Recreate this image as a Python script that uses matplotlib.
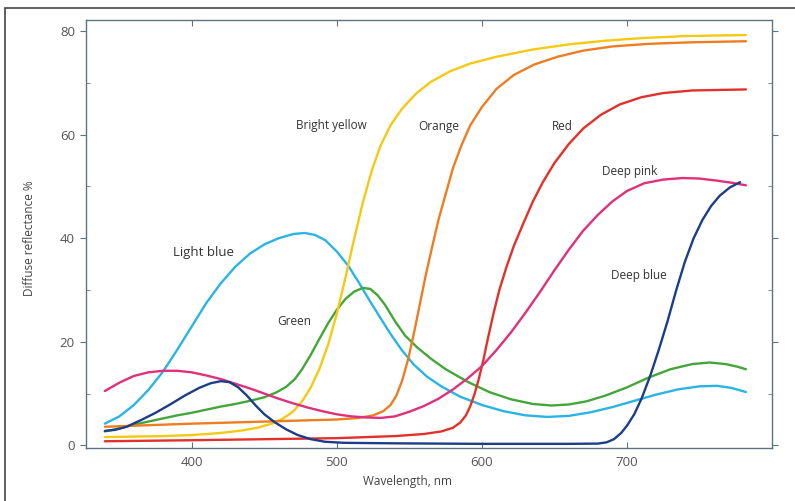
import matplotlib
matplotlib.use("Agg")
import matplotlib.pyplot as plt
from matplotlib.patches import Rectangle
from matplotlib.ticker import MultipleLocator

plt.rcParams['font.family'] = ['Open Sans', 'DejaVu Sans']

# ---- data ----
light_blue_x = [340, 350, 360, 370, 380, 390, 400, 410, 420, 430, 440, 450, 460, 470, 478, 485, 492, 500, 508, 515, 522, 530, 537, 545, 553, 562, 572, 585, 600, 615, 630, 645, 660, 675, 690, 705, 720, 735, 750, 762, 772, 782]
light_blue_y = [4.2, 5.6, 7.8, 10.7, 14.2, 18.5, 23, 27.5, 31.3, 34.5, 37, 38.8, 40, 40.8, 41, 40.6, 39.6, 37.4, 34.6, 31.5, 28.2, 24.6, 21.5, 18.3, 15.6, 13.3, 11.4, 9.4, 7.8, 6.6, 5.8, 5.5, 5.7, 6.4, 7.4, 8.6, 9.8, 10.8, 11.4, 11.5, 11.1, 10.3]

green_x = [340, 350, 360, 370, 380, 390, 400, 410, 420, 430, 440, 450, 458, 465, 471, 476, 482, 488, 494, 500, 506, 512, 518, 523, 528, 533, 540, 547, 555, 565, 575, 590, 605, 620, 635, 648, 660, 672, 685, 700, 715, 730, 745, 757, 768, 776, 782]
green_y = [2.7, 3.3, 4.0, 4.6, 5.2, 5.8, 6.3, 6.9, 7.5, 8.0, 8.6, 9.3, 10.2, 11.3, 12.8, 14.7, 17.5, 20.6, 23.6, 26.2, 28.3, 29.7, 30.4, 30.2, 29, 27.2, 24, 21.2, 19, 16.7, 14.7, 12.3, 10.3, 8.9, 8.0, 7.7, 7.9, 8.5, 9.6, 11.2, 13.1, 14.7, 15.7, 16, 15.7, 15.2, 14.7]

yellow_x = [340, 380, 400, 420, 435, 445, 455, 463, 470, 476, 482, 488, 494, 500, 506, 512, 518, 524, 530, 537, 545, 555, 565, 578, 592, 610, 635, 660, 685, 710, 740, 782]
yellow_y = [1.6, 1.8, 2.0, 2.4, 2.9, 3.4, 4.2, 5.2, 6.6, 8.5, 11.2, 14.8, 19.5, 25.5, 32.5, 40, 47, 53, 57.8, 61.8, 65, 68, 70.2, 72.2, 73.7, 75, 76.4, 77.4, 78.1, 78.6, 79, 79.2]

orange_x = [340, 400, 450, 500, 515, 525, 532, 537, 541, 545, 549, 553, 557, 561, 565, 570, 575, 580, 586, 592, 600, 610, 622, 636, 652, 670, 690, 715, 745, 782]
orange_y = [3.6, 4.2, 4.6, 5.0, 5.3, 5.8, 6.6, 7.8, 9.6, 12.5, 16.5, 21.5, 27, 32.5, 37.5, 43.5, 48.5, 53.5, 58, 61.8, 65.3, 68.8, 71.5, 73.5, 75, 76.2, 77, 77.5, 77.8, 78]

red_x = [340, 400, 450, 500, 540, 560, 572, 580, 585, 589, 592, 595, 598, 601, 604, 608, 612, 617, 622, 628, 635, 642, 650, 660, 670, 682, 695, 710, 725, 745, 782]
red_y = [0.8, 1.0, 1.2, 1.4, 1.8, 2.2, 2.7, 3.4, 4.4, 5.8, 7.6, 10, 13, 16.5, 20.5, 25.5, 30, 34.5, 38.5, 42.5, 47, 50.8, 54.5, 58.2, 61.2, 63.8, 65.8, 67.2, 68, 68.5, 68.7]

deep_pink_x = [340, 350, 360, 370, 380, 390, 400, 410, 420, 430, 440, 450, 460, 470, 480, 490, 500, 510, 520, 530, 540, 550, 560, 570, 580, 590, 600, 610, 620, 630, 640, 650, 660, 670, 680, 690, 700, 712, 725, 738, 750, 762, 772, 782]
deep_pink_y = [10.5, 12.1, 13.4, 14.1, 14.4, 14.4, 14.1, 13.5, 12.8, 11.9, 11, 10, 9, 8.1, 7.3, 6.6, 6.0, 5.6, 5.4, 5.3, 5.6, 6.5, 7.6, 9, 10.8, 12.9, 15.3, 18.4, 21.8, 25.6, 29.6, 33.8, 37.8, 41.5, 44.5, 47.1, 49.1, 50.6, 51.3, 51.6, 51.5, 51.1, 50.7, 50.2]

deep_blue_x = [340, 347, 355, 365, 375, 385, 395, 405, 413, 420, 426, 432, 438, 444, 450, 457, 465, 473, 482, 492, 505, 540, 600, 660, 680, 686, 691, 696, 700, 705, 710, 716, 722, 728, 734, 740, 746, 752, 758, 764, 771, 778]
deep_blue_y = [2.8, 3.0, 3.6, 4.9, 6.3, 7.9, 9.6, 11.1, 12.0, 12.4, 12.2, 11.2, 9.6, 7.7, 6.0, 4.5, 3.1, 2.0, 1.2, 0.7, 0.5, 0.4, 0.3, 0.3, 0.35, 0.6, 1.2, 2.4, 3.8, 6.0, 9.0, 13.4, 18.5, 24, 30, 35.5, 40, 43.5, 46.2, 48.2, 49.8, 50.8]

series = [
    (light_blue_x, light_blue_y, '#2ab4e6'),
    (green_x, green_y, '#43a638'),
    (yellow_x, yellow_y, '#f4c914'),
    (orange_x, orange_y, '#ee7d22'),
    (red_x, red_y, '#e2312a'),
    (deep_pink_x, deep_pink_y, '#e0307a'),
    (deep_blue_x, deep_blue_y, '#1d3d8a'),
]

labels = ["Bright yellow", "Orange", "Red", "Deep pink", "Deep blue", "Light blue", "Green"]
label_x = [472, 556, 648, 683, 689, 387, 459]
label_y = [61.7, 61.5, 61.5, 52.8, 32.8, 37.3, 23.9]
label_size = [8.5, 8.5, 8.5, 8.5, 8.5, 9.5, 8.5]

x_ticks = [400, 500, 600, 700]
y_ticks = [0, 20, 40, 60, 80]

# ---- figure ----
fig = plt.figure(figsize=(7.95, 5.01), dpi=100)
ax = fig.add_axes([86/795, 1-448/501, (772-86)/795, (448-20)/501])

for xs, ys, c in series:
    ax.plot(xs, ys, color=c, lw=1.7, solid_joinstyle='round', solid_capstyle='round')

for t, x, y, s in zip(labels, label_x, label_y, label_size):
    ax.text(x, y, t, fontsize=s, color='#333333', ha='left', va='center')

ax.set_xlim(327, 800)
ax.set_ylim(-0.5, 82.1)
ax.set_xticks(x_ticks)
ax.set_yticks(y_ticks)
ax.yaxis.set_minor_locator(MultipleLocator(10))

spine_col = '#5d7380'
for s in ax.spines.values():
    s.set_color(spine_col)
    s.set_linewidth(1.0)

ax.tick_params(axis='x', which='major', direction='in', length=4, color=spine_col,
               labelsize=9.5, labelcolor='#555555', top=True, pad=6)
ax.tick_params(axis='y', which='major', direction='out', length=4, color=spine_col,
               labelsize=9.5, labelcolor='#555555', pad=4)
ax.tick_params(axis='y', which='minor', direction='in', length=3, color=spine_col, right=True)
ax.tick_params(axis='y', which='major', right=True)
ax.tick_params(axis='y', which='both', labelright=False)

ax.set_xlabel("Wavelength, nm", fontsize=8.5, color='#444444')
ax.xaxis.set_label_coords(0.468, -0.062)
ax.set_ylabel("Diffuse reflectance %", fontsize=8.5, color='#444444')
ax.yaxis.set_label_coords(-0.073, 0.49)

# outer frame
fig.patches.append(Rectangle((5/795, -0.02), 1.05, 1-8/501+0.02, transform=fig.transFigure,
                             fill=False, edgecolor='#444444', lw=1.2))

fig.savefig("out.png", dpi=100)
